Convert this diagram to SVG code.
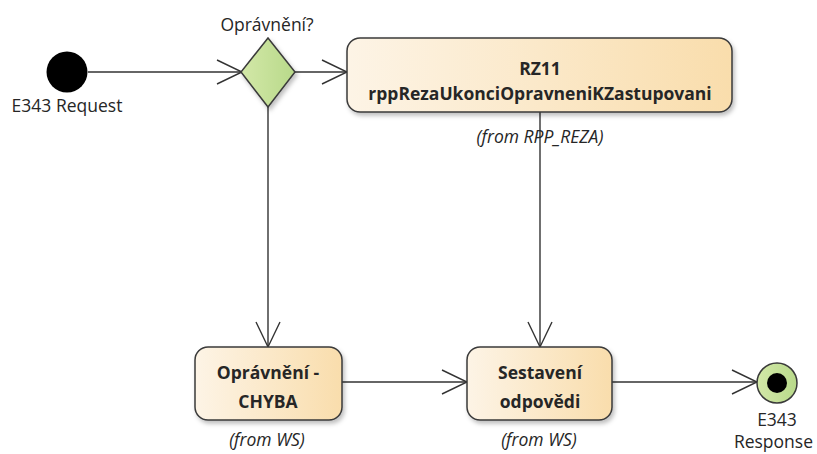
<svg xmlns="http://www.w3.org/2000/svg" width="817" height="454" viewBox="0 0 817 454">
<style>
.t{font-family:"Open Sans","Noto Sans","Liberation Sans",sans-serif;fill:#262626;font-size:17.5px}
.b{font-weight:bold}
.i{font-style:italic}
.box{fill:url(#cream);stroke:#3a3a3a;stroke-width:1.5}
.ln{fill:none;stroke:#333;stroke-width:1.4}
</style>
<defs>
<linearGradient id="cream" x1="0" y1="0" x2="1" y2="0">
<stop offset="0" stop-color="#fdf4e6"/><stop offset="1" stop-color="#f9ddac"/>
</linearGradient>
<linearGradient id="green" x1="0" y1="0" x2="1" y2="0">
<stop offset="0" stop-color="#d3e8a8"/><stop offset="1" stop-color="#b8d98a"/>
</linearGradient>
<filter id="sh" x="-10%" y="-10%" width="130%" height="140%">
<feDropShadow dx="2" dy="3" stdDeviation="2" flood-color="#000" flood-opacity="0.25"/>
</filter>
<marker id="arr" markerWidth="28" markerHeight="28" refX="26" refY="14" orient="auto" markerUnits="userSpaceOnUse">
<path d="M1,2 L26,14 L1,26" fill="none" stroke="#333" stroke-width="1.4"/>
</marker>
</defs>
<g id="connectors">
<line class="ln" x1="88" y1="72" x2="242" y2="72" marker-end="url(#arr)"/>
<line class="ln" x1="295" y1="72" x2="347" y2="72" marker-end="url(#arr)"/>
<line class="ln" x1="268" y1="107" x2="268" y2="347" marker-end="url(#arr)"/>
<line class="ln" x1="540" y1="112" x2="540" y2="347" marker-end="url(#arr)"/>
<line class="ln" x1="342" y1="382" x2="467" y2="382" marker-end="url(#arr)"/>
<line class="ln" x1="612" y1="382" x2="757" y2="382" marker-end="url(#arr)"/>
</g>
<g id="start">
<circle cx="67" cy="72" r="20.5" fill="#000"/>
<text class="t" x="67" y="112" text-anchor="middle">E343 Request</text>
</g>
<g id="decision">
<polygon points="268,38 295,72 268,107 241,72" fill="url(#green)" stroke="#3a3a3a" stroke-width="1.5" filter="url(#sh)"/>
<text class="t" x="267" y="31" text-anchor="middle">Oprávnění?</text>
</g>
<g id="rz11">
<rect class="box" x="347" y="38" width="385" height="74" rx="13" filter="url(#sh)"/>
<text class="t b" x="540" y="75" text-anchor="middle">RZ11</text>
<text class="t b" x="540" y="100" text-anchor="middle">rppRezaUkonciOpravneniKZastupovani</text>
<text class="t i" x="540" y="143" text-anchor="middle">(from RPP_REZA)</text>
</g>
<g id="chyba">
<rect class="box" x="195" y="347" width="147" height="73" rx="13" filter="url(#sh)"/>
<text class="t b" x="268" y="379" text-anchor="middle">Oprávnění -</text>
<text class="t b" x="268" y="408" text-anchor="middle">CHYBA</text>
<text class="t i" x="267" y="446" text-anchor="middle">(from WS)</text>
</g>
<g id="sestaveni">
<rect class="box" x="467" y="347" width="145" height="73" rx="13" filter="url(#sh)"/>
<text class="t b" x="540" y="379" text-anchor="middle">Sestavení</text>
<text class="t b" x="540" y="408" text-anchor="middle">odpovědi</text>
<text class="t i" x="539" y="446" text-anchor="middle">(from WS)</text>
</g>
<g id="end">
<circle cx="777" cy="383" r="20" fill="url(#green)" stroke="#3a3a3a" stroke-width="1.5"/>
<circle cx="777" cy="383" r="10" fill="#000"/>
<text class="t" x="777" y="426" text-anchor="middle">E343</text>
<text class="t" x="813" y="448" text-anchor="end">Response</text>
</g>
</svg>
